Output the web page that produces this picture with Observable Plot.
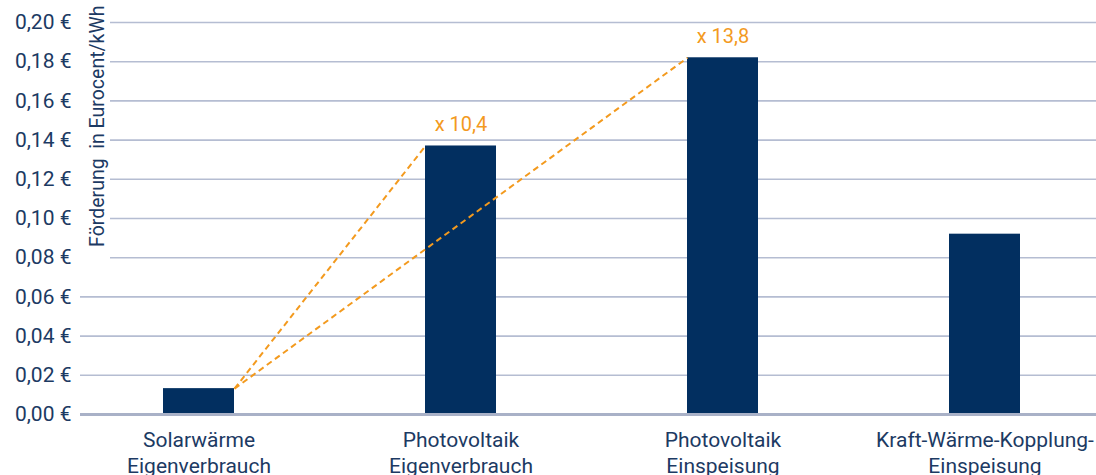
<!DOCTYPE html>
<html>
<head>
<meta charset="utf-8">
<script src="https://cdn.jsdelivr.net/npm/d3@7"></script>
<script src="https://cdn.jsdelivr.net/npm/@observablehq/plot@0.6"></script>
<style>
  html, body { margin: 0; padding: 0; background: #fff; }
  #chart { width: 1096px; height: 475px; overflow: hidden; }
</style>
</head>
<body>
<div id="chart"></div>
<script>
// ---- data ----
const categories = [
  "Solarwärme\nEigenverbrauch",
  "Photovoltaik\nEigenverbrauch",
  "Photovoltaik\nEinspeisung",
  "Kraft-Wärme-Kopplung-\nEinspeisung"
];
const values = [0.0132, 0.137, 0.182, 0.092];
const factorLabels = ["x 10,4", "x 13,8"];
const factorTargets = [1, 2];
const yTicks = [0, 0.02, 0.04, 0.06, 0.08, 0.10, 0.12, 0.14, 0.16, 0.18, 0.20];
const yTitle = "Förderung  in Eurocent/kWh";

// ---- styles ----
const navy = "#022f60";
const textColor = "#1c3a63";
const orange = "#f39a1e";
const gridColor = "#b5bdd2";
const hw = 0.1355; // half bar width in category units

const bars = categories.map((c, i) => ({i, value: values[i]}));
const factors = factorLabels.map((t, k) => ({text: t, target: factorTargets[k]}));

const chart = Plot.plot({
  width: 1096,
  height: 475,
  marginLeft: 80,
  marginRight: 0,
  marginTop: 22,
  marginBottom: 61,
  style: {fontFamily: "Roboto, sans-serif", color: textColor, background: "#fff", overflow: "visible"},
  x: {domain: [-0.5, 3.5], range: [67.5, 1115.5], axis: null},
  y: {domain: [0, 0.2], axis: null},
  marks: [
    Plot.ruleY(yTicks.filter(v => v > 0 && v < 0.07), {stroke: gridColor, strokeWidth: 1.6}),
    Plot.ruleY(yTicks.filter(v => v > 0.07), {stroke: gridColor, strokeWidth: 1.6, insetLeft: 30}),
    Plot.rectY(bars, {x1: d => d.i - hw, x2: d => d.i + hw, y: "value", fill: navy}),
    Plot.ruleY([0], {stroke: "#a9b1c7", strokeWidth: 3}),
    Plot.link(factors, {
      x1: hw, y1: values[0],
      x2: d => d.target - hw, y2: d => values[d.target],
      stroke: orange, strokeWidth: 2, strokeDasharray: "6,4"
    }),
    Plot.text(factors, {
      x: d => d.target, y: d => values[d.target], text: "text",
      dy: -21, fill: orange, fontSize: 20
    }),
    Plot.axisY({
      ticks: yTicks, tickSize: 0, tickPadding: 9, fontSize: 21,
      tickFormat: v => v.toFixed(2).replace(".", ",") + " €", label: null
    }),
    Plot.axisX({
      ticks: [0, 1, 2, 3], tickSize: 0, tickPadding: 14, fontSize: 21,
      lineHeight: 1.25, tickFormat: i => categories[i], label: null
    }),
    Plot.text([yTitle], {
      frameAnchor: "top-left", text: d => d, rotate: -90,
      textAnchor: "end", lineAnchor: "middle",
      dx: 17, dy: -17, fontSize: 19.5, fill: textColor
    })
  ]
});
document.getElementById("chart").appendChild(chart);
</script>
</body>
</html>
